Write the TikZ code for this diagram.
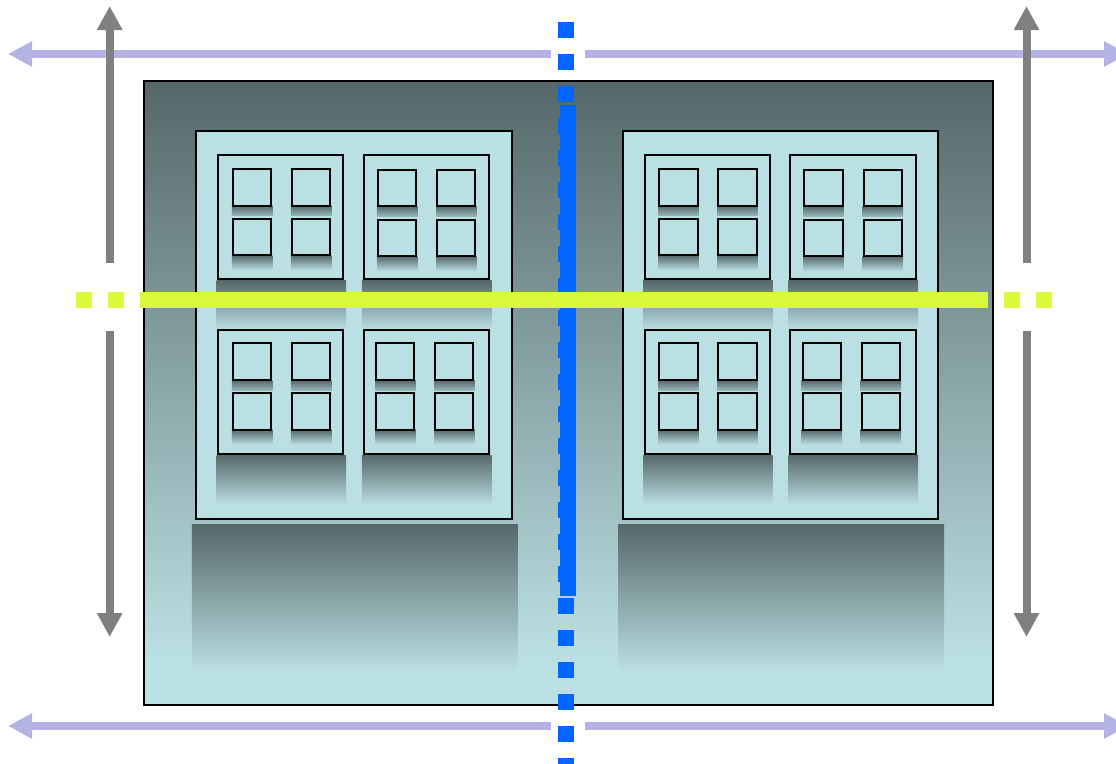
\documentclass[tikz,border=0pt]{standalone}
\usetikzlibrary{arrows.meta}
\definecolor{lightteal}{HTML}{BBE0E3}
\definecolor{darkteal}{HTML}{566769}
\definecolor{lav}{HTML}{B4B4E4}
\definecolor{axisgray}{HTML}{808080}
\definecolor{bluemark}{HTML}{0066FF}
\definecolor{yellowmark}{HTML}{D8FA3A}
\tikzset{
  box/.style={draw=black,line width=2pt,fill=lightteal},
  fade/.style={top color=darkteal,bottom color=lightteal,draw=none},
  lavline/.style={draw=lav,line width=8pt},
  lavarrow/.style={lavline,-{Triangle[length=24pt,width=24pt]}},
  grayline/.style={draw=axisgray,line width=8pt},
  grayarrow/.style={grayline,-{Triangle[length=24pt,width=24pt]}},
  bluedash/.style={draw=bluemark,line width=16pt,dash pattern=on 16pt off 16pt},
  bluesolid/.style={draw=bluemark,line width=16pt},
  yellowdash/.style={draw=yellowmark,line width=16pt,dash pattern=on 16pt off 16pt},
  yellowsolid/.style={draw=yellowmark,line width=15.6pt}
}
% small window with its fading shadow: x, top, bottom
\newcommand{\pane}[3]{%
  \shade[fade] ({#1-1},#3) rectangle ({#1+39.5},{#3+15});
  \fill[lightteal] ({#1-1.5},{#2-2.5}) rectangle ({#1+40},#2);
  \draw[box] (#1,#2) rectangle ({#1+38.2},#3);
}
\begin{document}
\begin{tikzpicture}[x=1pt,y=-1pt]
\useasboundingbox (0,0) rectangle (1116,763);
% outer panel
\fill[lightteal] (143.5,80.5) rectangle (992.5,704.5);
\shade[fade] (143.5,80.5) rectangle (992.5,660);
\draw[black,line width=2pt] (143.5,80.5) rectangle (992.5,704.5);
\foreach \dx in {0,426.5}{
\begin{scope}[xshift=\dx pt]
  \shade[fade] (191.8,524) rectangle (517.5,672);
  \draw[box] (196,130.5) rectangle (511.5,519);
  \shade[fade] (216.5,280.5) rectangle (346,330);
  \shade[fade] (361.8,280.5) rectangle (491.5,330);
  \shade[fade] (216.5,455) rectangle (346,505);
  \shade[fade] (361.8,455) rectangle (491.5,505);
  \draw[box] (218.2,155.4) rectangle (343.2,279);
  \draw[box] (363.8,155.4) rectangle (489.2,279);
  \draw[box] (218.2,330.4) rectangle (343.2,454);
  \draw[box] (363.8,330.4) rectangle (489.2,454);
  \pane{232.8}{168.7}{205.7}
  \pane{291.8}{168.7}{205.7}
  \pane{232.8}{218.7}{255.3}
  \pane{291.8}{218.7}{255.3}
  \pane{377.8}{169.7}{206.3}
  \pane{437.2}{169.7}{206.3}
  \pane{377.8}{219.7}{256.3}
  \pane{437.2}{219.7}{256.3}
  \pane{232.8}{343}{380.3}
  \pane{291.8}{343}{380.3}
  \pane{232.8}{393}{429.7}
  \pane{291.8}{393}{429.7}
  \pane{376.2}{343}{380.3}
  \pane{435.2}{343}{380.3}
  \pane{376.2}{393}{429.7}
  \pane{435.2}{393}{429.7}
\end{scope}}
% horizontal arrows
\coordinate (tl) at (8,54);
\coordinate (tm1) at (551,54);
\coordinate (tm2) at (585,54);
\coordinate (tr) at (1128,54);
\coordinate (bl) at (8,726);
\coordinate (bm1) at (551,726);
\coordinate (bm2) at (585,726);
\coordinate (br) at (1128,726);
\draw[lavarrow] (tm1) -- (tl);
\draw[lavarrow] (tm2) -- (tr);
\draw[lavarrow] (bm1) -- (bl);
\draw[lavarrow] (bm2) -- (br);
% vertical arrows
\coordinate (lt) at (109.7,6);
\coordinate (lm1) at (109.7,263);
\coordinate (lm2) at (109.7,331);
\coordinate (lb) at (109.7,637);
\coordinate (rt) at (1026.5,6);
\coordinate (rm1) at (1026.5,263);
\coordinate (rm2) at (1026.5,331);
\coordinate (rb) at (1026.5,637);
\draw[grayarrow] (lm1) -- (lt);
\draw[grayarrow] (lm2) -- (lb);
\draw[grayarrow] (rm1) -- (rt);
\draw[grayarrow] (rm2) -- (rb);
% blue marker
\coordinate (bluetop) at (566,22);
\coordinate (bluebot) at (566,774);
\coordinate (bluestart) at (568,105);
\coordinate (blueend) at (568,596);
\draw[bluedash] (bluetop) -- (bluebot);
\draw[bluesolid] (bluestart) -- (blueend);
% yellow marker
\coordinate (yelstart) at (76,300);
\coordinate (yelend) at (1052,300);
\coordinate (yelsolidstart) at (152,300.2);
\coordinate (yelsolidend) at (984,300.2);
\draw[yellowdash] (yelstart) -- (yelend);
\draw[yellowsolid] (yelsolidstart) -- (yelsolidend);
\end{tikzpicture}
\end{document}
